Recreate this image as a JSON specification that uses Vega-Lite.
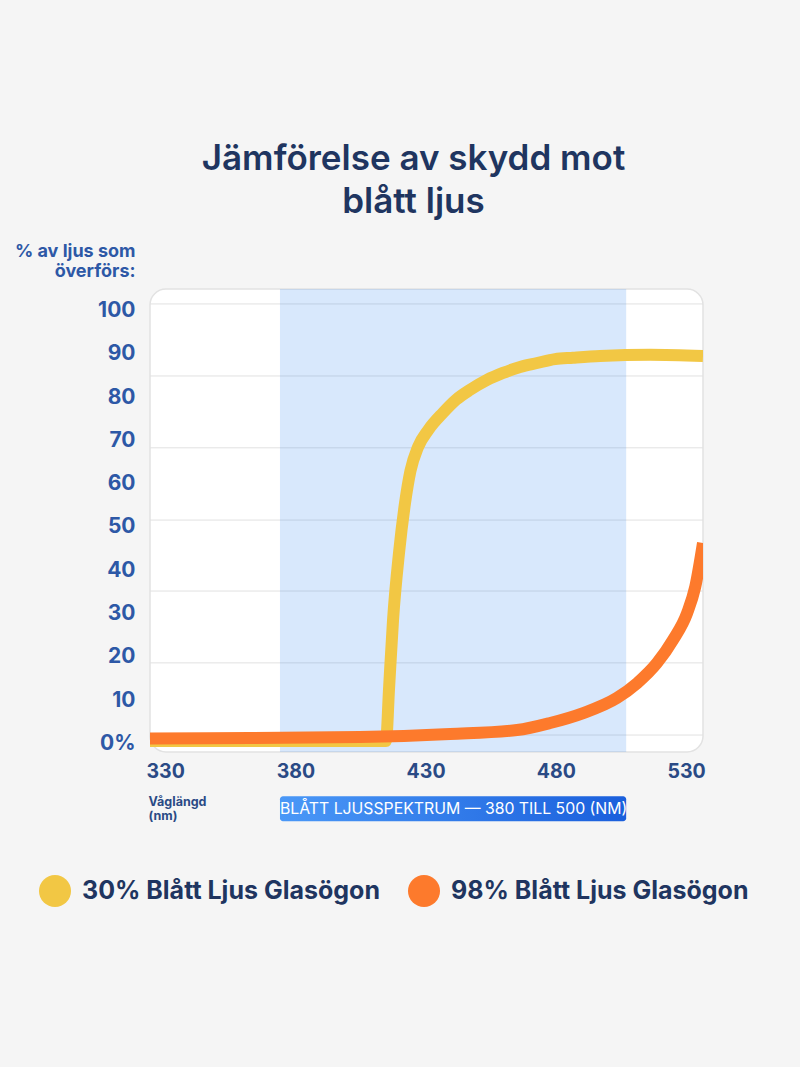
{
  "$schema": "https://vega.github.io/schema/vega-lite/v6.json",
  "width": 553,
  "height": 463,
  "autosize": {"type": "none"},
  "padding": {"left": 150, "top": 289, "right": 97, "bottom": 315},
  "background": "#f5f5f5",
  "config": {
    "font": "Inter",
    "view": {"fill": "white", "stroke": "#e2e2e2", "strokeWidth": 1.5, "cornerRadius": 16}
  },
  "title": {
    "text": ["Jämförelse av skydd mot", "blått ljus"],
    "anchor": "middle",
    "frame": "group",
    "fontSize": 35,
    "fontWeight": 600,
    "color": "#1f3560",
    "lineHeight": 43,
    "offset": 22,
    "dx": -13
  },
  "datasets": {
    "band": [
      {"start": 374.1, "end": 507.0, "label": "BLÅTT LJUSSPEKTRUM — 380 TILL 500 (NM)"}
    ],
    "grid": [
      {"pct": 1.92}, {"pct": 18.6}, {"pct": 35.2}, {"pct": 51.6}, {"pct": 68.3}, {"pct": 84.9}, {"pct": 101.55}
    ],
    "curves": [
      {"series": "30% Blått Ljus Glasögon", "nm": 324.2, "pct": 0.55},
      {"series": "30% Blått Ljus Glasögon", "nm": 414.8, "pct": 0.55},
      {"series": "30% Blått Ljus Glasögon", "nm": 416.0, "pct": 13.0},
      {"series": "30% Blått Ljus Glasögon", "nm": 417.5, "pct": 28.5},
      {"series": "30% Blått Ljus Glasögon", "nm": 419.8, "pct": 44.0},
      {"series": "30% Blått Ljus Glasögon", "nm": 422.1, "pct": 55.5},
      {"series": "30% Blått Ljus Glasögon", "nm": 424.2, "pct": 63.0},
      {"series": "30% Blått Ljus Glasögon", "nm": 427.1, "pct": 68.5},
      {"series": "30% Blått Ljus Glasögon", "nm": 431.0, "pct": 72.4},
      {"series": "30% Blått Ljus Glasögon", "nm": 436.7, "pct": 76.4},
      {"series": "30% Blått Ljus Glasögon", "nm": 441.7, "pct": 79.4},
      {"series": "30% Blått Ljus Glasögon", "nm": 447.1, "pct": 81.7},
      {"series": "30% Blått Ljus Glasögon", "nm": 453.6, "pct": 84.0},
      {"series": "30% Blått Ljus Glasögon", "nm": 459.7, "pct": 85.6},
      {"series": "30% Blått Ljus Glasögon", "nm": 466.3, "pct": 87.0},
      {"series": "30% Blått Ljus Glasögon", "nm": 472.8, "pct": 87.9},
      {"series": "30% Blått Ljus Glasögon", "nm": 479.7, "pct": 88.8},
      {"series": "30% Blått Ljus Glasögon", "nm": 486.6, "pct": 89.1},
      {"series": "30% Blått Ljus Glasögon", "nm": 497.0, "pct": 89.5},
      {"series": "30% Blått Ljus Glasögon", "nm": 516.2, "pct": 89.8},
      {"series": "30% Blått Ljus Glasögon", "nm": 536.5, "pct": 89.5},
      {"series": "98% Blått Ljus Glasögon", "nm": 324.2, "pct": 1.1},
      {"series": "98% Blått Ljus Glasögon", "nm": 362.6, "pct": 1.25},
      {"series": "98% Blått Ljus Glasögon", "nm": 404.9, "pct": 1.46},
      {"series": "98% Blått Ljus Glasögon", "nm": 439.4, "pct": 2.15},
      {"series": "98% Blått Ljus Glasögon", "nm": 465.1, "pct": 3.07},
      {"series": "98% Blått Ljus Glasögon", "nm": 477.8, "pct": 4.7},
      {"series": "98% Blått Ljus Glasögon", "nm": 490.5, "pct": 7.0},
      {"series": "98% Blått Ljus Glasögon", "nm": 503.5, "pct": 10.5},
      {"series": "98% Blått Ljus Glasögon", "nm": 511.2, "pct": 13.9},
      {"series": "98% Blått Ljus Glasögon", "nm": 518.9, "pct": 18.6},
      {"series": "98% Blått Ljus Glasögon", "nm": 525.0, "pct": 23.9},
      {"series": "98% Blått Ljus Glasögon", "nm": 530.4, "pct": 30.1},
      {"series": "98% Blått Ljus Glasögon", "nm": 533.5, "pct": 36.1},
      {"series": "98% Blått Ljus Glasögon", "nm": 536.5, "pct": 46.3}
    ]
  },
  "layer": [
    {
      "data": {"name": "grid"},
      "mark": {"type": "rule", "color": "#e1e1e1", "strokeWidth": 1},
      "encoding": {
        "y": {"field": "pct", "type": "quantitative"}
      }
    },
    {
      "data": {"name": "band"},
      "mark": {"type": "rect", "color": "#3b8ef0", "opacity": 0.2},
      "encoding": {
        "x": {
          "field": "start",
          "type": "quantitative",
          "scale": {"domain": [324.2, 536.5], "nice": false, "zero": false},
          "axis": {
            "values": [330, 380, 430, 480, 530],
            "grid": false,
            "ticks": false,
            "domain": false,
            "labelFontSize": 19.5,
            "labelFontWeight": "bold",
            "labelColor": "#2a4a85",
            "labelPadding": 10,
            "labelOverlap": false,
            "title": ["Våglängd", "(nm)"],
            "titleFontSize": 12.5,
            "titleFontWeight": "bold",
            "titleColor": "#2a4a85",
            "titleAlign": "left",
            "titleBaseline": "alphabetic",
            "titleX": -2,
            "titleY": 53,
            "titleLineHeight": 14
          }
        },
        "x2": {"field": "end"}
      }
    },
    {
      "data": {"name": "band"},
      "mark": {
        "type": "rect",
        "cornerRadius": 3,
        "color": {
          "gradient": "linear",
          "x1": 0, "y1": 0, "x2": 1, "y2": 0,
          "stops": [
            {"offset": 0, "color": "#4a98f7"},
            {"offset": 1, "color": "#1a5fdc"}
          ]
        }
      },
      "encoding": {
        "x": {"field": "start", "type": "quantitative"},
        "x2": {"field": "end"},
        "y": {"datum": -12.2, "type": "quantitative"},
        "y2": {"datum": -18.0}
      }
    },
    {
      "data": {"name": "band"},
      "mark": {"type": "text", "align": "left", "baseline": "middle", "color": "white", "fontSize": 15.8, "dx": 0},
      "encoding": {
        "x": {"field": "start", "type": "quantitative"},
        "y": {"datum": -15.1, "type": "quantitative"},
        "text": {"field": "label"}
      }
    },
    {
      "data": {"name": "curves"},
      "mark": {"type": "line", "strokeWidth": 12, "interpolate": "monotone", "clip": true, "strokeCap": "butt"},
      "encoding": {
        "x": {"field": "nm", "type": "quantitative"},
        "y": {
          "field": "pct",
          "type": "quantitative",
          "scale": {"domain": [-2.0, 105.0], "nice": false, "zero": false},
          "axis": {
            "values": [0, 10, 20, 30, 40, 50, 60, 70, 80, 90, 100],
            "labelExpr": "datum.value === 0 ? '0%' : datum.label",
            "grid": false,
            "ticks": false,
            "domain": false,
            "labelOverlap": false,
            "labelFontSize": 21,
            "labelFontWeight": "bold",
            "labelColor": "#2d58a6",
            "labelPadding": 15,
            "title": ["% av ljus som", "överförs:"],
            "titleAngle": 0,
            "titleAlign": "right",
            "titleBaseline": "alphabetic",
            "titleX": -15,
            "titleY": -33,
            "titleFontSize": 18,
            "titleFontWeight": "bold",
            "titleColor": "#2d58a6",
            "titleLineHeight": 20
          }
        },
        "color": {
          "field": "series",
          "type": "nominal",
          "sort": ["30% Blått Ljus Glasögon", "98% Blått Ljus Glasögon"],
          "scale": {
            "domain": ["30% Blått Ljus Glasögon", "98% Blått Ljus Glasögon"],
            "range": ["#f2c744", "#fd7a2c"]
          },
          "legend": {
            "orient": "none",
            "legendX": -111,
            "legendY": 586,
            "direction": "horizontal",
            "title": null,
            "symbolType": "circle",
            "symbolSize": 1024,
            "symbolStrokeWidth": 0,
            "labelFontSize": 25,
            "labelFontWeight": "bold",
            "labelColor": "#1f3560",
            "labelOffset": 11,
            "labelLimit": 500,
            "columnPadding": 28,
            "padding": 0,
            "encode": {
              "symbols": {"update": {"fill": {"scale": "color", "field": "value"}, "opacity": {"value": 1}}}
            }
          }
        }
      }
    }
  ]
}
